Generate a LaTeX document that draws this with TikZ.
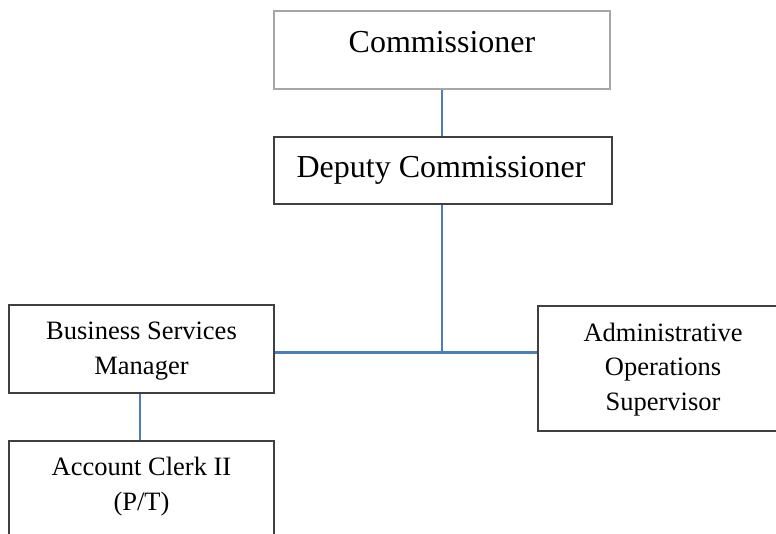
\documentclass[tikz,border=0pt]{standalone}
\usepackage{fontspec}
\setmainfont{Liberation Serif}
\begin{document}
\begin{tikzpicture}[x=1pt,y=-1pt,
  box/.style={draw=boxgray,line width=1.3pt,fill=white,rectangle,inner sep=0pt},
  lightbox/.style={box,draw=lightgray},
  link/.style={draw=linkblue,line width=2.8pt},
  bigtext/.style={font=\fontsize{32}{34}\selectfont,anchor=base,inner sep=0pt},
  smalltext/.style={font=\fontsize{26.5}{34.5}\selectfont,anchor=base,inner sep=0pt,align=center}]
\definecolor{boxgray}{HTML}{404040}
\definecolor{lightgray}{HTML}{A6A6A6}
\definecolor{linkblue}{HTML}{4A7EBB}
\useasboundingbox (0,0) rectangle (776,533);

% boxes
\node[lightbox,minimum width=336pt,minimum height=78pt] (comm) at (442,50) {};
\node[box,minimum width=338pt,minimum height=67pt] (dep) at (443,170.5) {};
\node[box,minimum width=265pt,minimum height=88pt] (biz) at (141.5,349) {};
\node[box,minimum width=250pt,minimum height=125pt] (adm) at (663,368.5) {};
\node[box,minimum width=265pt,minimum height=140pt] (acc) at (141.5,511) {};

% titles (base anchor sits on the last line)
\node[bigtext] (commT) at (442,52) {Commissioner};
\node[bigtext] (depT) at (441,177) {Deputy Commissioner};
\node[smalltext] (bizT) at (141.5,374) {Business Services\\Manager};
\node[smalltext] (admT) at (663,410) {Administrative\\Operations\\Supervisor};
\node[smalltext] (accT) at (141.5,510) {Account Clerk II\\(P/T)};

% connectors
\coordinate (j) at (442,352.7);
\draw[link] (comm.south) -- (comm.south |- dep.north);
\draw[link] (dep.south -| j) -- (j);
\draw[link] (biz.east |- j) -- (adm.west |- j);
\draw[link] (140,0 |- biz.south) -- (140,0 |- acc.north);
\end{tikzpicture}
\end{document}
